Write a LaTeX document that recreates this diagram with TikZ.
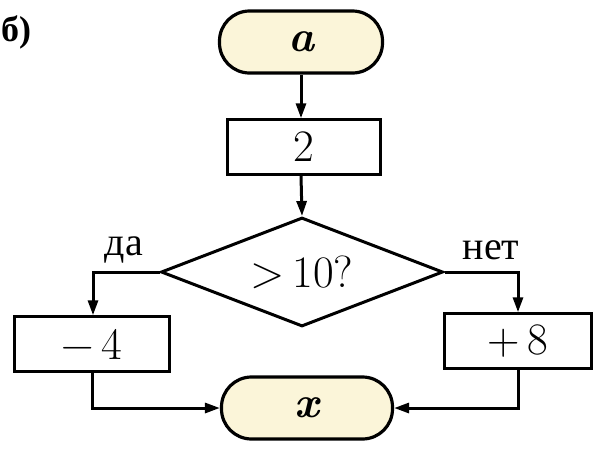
\documentclass[tikz,border=0pt]{standalone}
\usepackage{fontspec}
\newfontfamily\cyr{Liberation Serif}
\usetikzlibrary{shapes.geometric,arrows.meta}
\definecolor{term}{HTML}{FBF5D9}
\tikzset{
  every node/.style={font=\fontsize{45}{50}\selectfont},
  line/.style={line width=3pt,-{Triangle[length=15pt,width=10pt]}},
  termbox/.style={draw,line width=3.2pt,rounded corners=30pt,fill=term,minimum width=#1,minimum height=62pt},
  opbox/.style={draw,line width=2.5pt,minimum width=#1,minimum height=55pt,inner sep=0pt},
  decbox/.style={draw,line width=3pt,diamond,aspect=2.6,minimum width=282pt,minimum height=109pt,inner sep=0pt},
  lbl/.style={font=\cyr\fontsize{40}{44}\selectfont},
  var/.style={font=\fontsize{44}{48}\selectfont\bfseries\itshape}
}
\begin{document}
\begin{tikzpicture}[x=1pt,y=-1pt]
\useasboundingbox (0,0) rectangle (603,448);
\node[font=\cyr\fontsize{36}{40}\selectfont\bfseries,anchor=west,inner sep=0pt] (lab) at (1,32) {б)};
\node[termbox=163pt,var] (a) at (301,42) {a};
\node[opbox=153pt] (two) at (304,147) {2};
\node[decbox] (d) at (302,272) {>\,10?};
\node[opbox=155pt] (m4) at (92,344) {−\,4};
\node[opbox=147pt] (p8) at (518,341) {+\,8};
\node[termbox=171pt,var] (x) at (307,408) {x};
\coordinate (lc) at (93,272);
\coordinate (rc) at (518,272);
\coordinate (lb) at (92,408);
\coordinate (rb) at (518,408);
\draw[line] (a.south -| 301,0) -- (two.north -| 301,0);
\draw[line] (two.south -| 301,0) -- (d.north);
\draw[line] (d.west) -- (lc) -- (m4.north -| lc);
\draw[line] (d.east) -- (rc) -- (p8.north);
\draw[line] (m4.south) -- (lb) -- (x.west);
\draw[line] (p8.south) -- (rb) -- (x.east);
\node[lbl] (da) at (124,250) {да};
\node[lbl] (net) at (491,250) {нет};
\end{tikzpicture}
\end{document}
